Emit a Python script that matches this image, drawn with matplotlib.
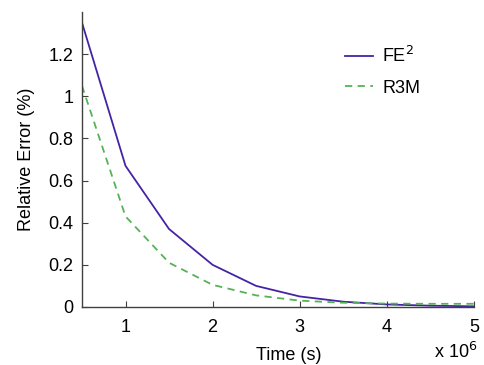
import numpy as np
import matplotlib
matplotlib.use('Agg')
import matplotlib.pyplot as plt

# time in units of 1e6 s
time = [0.5, 1.0, 1.5, 2.0, 2.5, 3.0, 3.5, 4.0, 4.5, 5.0]
fe2_err = [1.35, 0.67, 0.37, 0.20, 0.10, 0.05, 0.025, 0.012, 0.006, 0.003]
r3m_err = [1.05, 0.43, 0.21, 0.105, 0.055, 0.03, 0.02, 0.016, 0.015, 0.015]

plt.rcParams.update({
    'font.family': ['Liberation Sans', 'DejaVu Sans'],
    'font.size': 13,
    'axes.linewidth': 1.0,
    'axes.edgecolor': '0.25',
})

fig = plt.figure(figsize=(4.85, 3.65), dpi=100)
ax = fig.add_axes([0.169, 0.159, 0.808, 0.808])
ax.plot(time, fe2_err, color='#4424a4', lw=1.3, label='FE$^2$')
ax.plot(time, r3m_err, color='#55b355', lw=1.3, ls=(0, (4, 3)), label='R3M')

ax.set_xlim(0.5, 5)
ax.set_ylim(0, 1.4)
ax.set_xticks([1, 2, 3, 4, 5])
ax.set_yticks([0, 0.2, 0.4, 0.6, 0.8, 1.0, 1.2])
ax.set_yticklabels(['0', '0.2', '0.4', '0.6', '0.8', '1', '1.2'])
ax.tick_params(direction='in', length=4, width=0.8, color='0.25', pad=6)
ax.tick_params(axis='x', pad=9)
ax.spines['top'].set_visible(False)
ax.spines['right'].set_visible(False)
ax.set_xlabel('Time (s)')
ax.xaxis.set_label_coords(0.528, -0.136)
ax.set_ylabel('Relative Error (%)', labelpad=10)
ax.text(1.01, -0.172, 'x 10$^6$', transform=ax.transAxes, ha='right', va='baseline')

ax.legend(loc='upper left', bbox_to_anchor=(0.63, 0.94), frameon=False,
          handlelength=1.55, labelspacing=0.75, handletextpad=0.5)

fig.savefig('out.png', dpi=100, facecolor='white')
